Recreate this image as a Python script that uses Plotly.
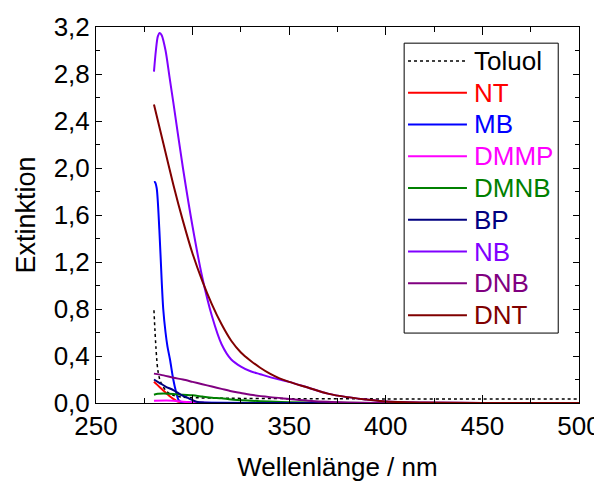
import plotly.graph_objects as go

# ---- data ----
toluol_x = [280, 280.5, 281, 281.5, 282, 283, 284, 286, 288, 290, 294, 300, 320, 350, 400, 450, 500]
toluol_y = [0.79, 0.62, 0.48, 0.36, 0.28, 0.2, 0.16, 0.11, 0.08, 0.065, 0.05, 0.045, 0.04, 0.037, 0.035, 0.035, 0.035]

nt_x = [280, 282, 284, 286, 288, 290, 292, 295, 300, 350, 500]
nt_y = [0.18, 0.15, 0.12, 0.09, 0.06, 0.035, 0.015, 0.005, 0.0, 0.0, 0.0]

mb_x = [280, 280.5, 281.4, 282.8, 284, 284.8, 286, 287, 288.3, 290, 291.5, 292.6, 294, 300, 350, 500]
mb_y = [1.88, 1.88, 1.83, 1.47, 1.04, 0.8, 0.6, 0.48, 0.37, 0.2, 0.09, 0.03, 0.01, 0.005, 0.0, 0.0]

dmmp_x = [280, 290, 295, 300, 310, 500]
dmmp_y = [0.02, 0.02, 0.01, 0.005, 0.0, 0.0]

dmnb_x = [280, 282, 285, 290, 295, 300, 305, 310, 315, 320, 330, 340, 350, 370, 400, 500]
dmnb_y = [0.07, 0.078, 0.08, 0.077, 0.07, 0.065, 0.055, 0.045, 0.04, 0.03, 0.02, 0.012, 0.006, 0.002, 0.0, 0.0]

bp_x = [280, 283, 286, 290, 294, 298, 302, 306, 320, 500]
bp_y = [0.2, 0.17, 0.14, 0.11, 0.07, 0.04, 0.01, 0.003, 0.0, 0.0]

nb_x = [280, 281, 282, 283, 284, 286, 288, 290, 295, 300, 305, 310, 315, 320, 325, 330,
        335, 340, 345, 350, 360, 370, 380, 390, 400, 420, 450, 500]
nb_y = [2.82, 3.0, 3.12, 3.15, 3.13, 3.0, 2.78, 2.56, 2.0, 1.5, 1.07, 0.74, 0.5, 0.37, 0.31, 0.27,
        0.245, 0.22, 0.2, 0.18, 0.13, 0.08, 0.05, 0.03, 0.012, 0.004, 0.001, 0.0]

dnb_x = [280, 285, 290, 295, 300, 305, 310, 315, 320, 325, 330, 340, 350, 360, 370, 380, 400, 500]
dnb_y = [0.25, 0.235, 0.215, 0.2, 0.18, 0.16, 0.14, 0.12, 0.1, 0.085, 0.07, 0.05, 0.035, 0.02, 0.01, 0.005, 0.0, 0.0]

dnt_x = [280, 285, 290, 295, 300, 305, 310, 315, 320, 325, 330,
         335, 340, 345, 350, 360, 370, 380, 390, 400, 420, 450, 500]
dnt_y = [2.54, 2.2, 1.86, 1.55, 1.27, 1.04, 0.84, 0.67, 0.53, 0.43, 0.36,
         0.3, 0.25, 0.21, 0.18, 0.13, 0.08, 0.05, 0.03, 0.012, 0.004, 0.001, 0.0]

x_ticks = [250, 300, 350, 400, 450, 500]
y_ticks = [0.0, 0.4, 0.8, 1.2, 1.6, 2.0, 2.4, 2.8, 3.2]
y_tick_labels = ["0,0", "0,4", "0,8", "1,2", "1,6", "2,0", "2,4", "2,8", "3,2"]

series = [
    ("Toluol", toluol_x, toluol_y, "#000000", "dot"),
    ("NT", nt_x, nt_y, "#FF0000", "solid"),
    ("MB", mb_x, mb_y, "#0000FF", "solid"),
    ("DMMP", dmmp_x, dmmp_y, "#FF00FF", "solid"),
    ("DMNB", dmnb_x, dmnb_y, "#008000", "solid"),
    ("BP", bp_x, bp_y, "#000080", "solid"),
    ("NB", nb_x, nb_y, "#8000FF", "solid"),
    ("DNB", dnb_x, dnb_y, "#800080", "solid"),
    ("DNT", dnt_x, dnt_y, "#800000", "solid"),
]

font_family = "Liberation Sans, Arial, sans-serif"

fig = go.Figure()
for name, xs, ys, color, dash in series:
    fig.add_trace(go.Scatter(
        x=xs, y=ys, mode="lines", name=name, showlegend=False,
        line=dict(color=color, width=2 if dash == "solid" else 1.5, dash=dash, shape="spline", smoothing=0.8),
    ))

# ---- legend box (drawn in paper coordinates, like the original's legend) ----
leg_x0, leg_x1, leg_top, leg_bot = 0.638, 0.957, 0.957, 0.186
first_row, row_step = 0.9097, 0.0845
sample_x0, sample_x1, text_x = 0.646, 0.768, 0.778
shapes = [dict(type="rect", xref="paper", yref="paper", x0=leg_x0, x1=leg_x1, y0=leg_bot, y1=leg_top,
               line=dict(color="black", width=1), fillcolor="white", layer="above")]
annotations = []
for i, (name, xs, ys, color, dash) in enumerate(series):
    yy = first_row - i * row_step
    shapes.append(dict(type="line", xref="paper", yref="paper", x0=sample_x0, x1=sample_x1, y0=yy, y1=yy,
                       line=dict(color=color, width=2 if dash == "solid" else 1.5, dash=dash), layer="above"))
    annotations.append(dict(xref="paper", yref="paper", x=text_x, y=yy, xanchor="left", yanchor="middle",
                            text=name, showarrow=False, font=dict(size=26, color=color, family=font_family)))

fig.update_layout(
    width=594, height=474,
    margin=dict(l=88, r=23, t=19, b=79),
    paper_bgcolor="white", plot_bgcolor="white",
    font=dict(family=font_family, size=26, color="black"),
    showlegend=False,
    shapes=shapes, annotations=annotations,
)
fig.update_xaxes(
    range=[250, 500], tickvals=x_ticks, ticktext=[str(v) for v in x_ticks],
    showgrid=False, zeroline=False, showline=True, linecolor="black", linewidth=1,
    mirror="allticks", ticks="inside", ticklen=8, tickwidth=1, tickcolor="black",
    minor=dict(dtick=25, tick0=250, ticks="inside", ticklen=5, tickcolor="black", showgrid=False),
    tickfont=dict(size=26), automargin=False,
    title=dict(text="Wellenlänge / nm", font=dict(size=26), standoff=18),
)
fig.update_yaxes(
    range=[0, 3.2], tickvals=y_ticks, ticktext=y_tick_labels,
    showgrid=False, zeroline=False, showline=True, linecolor="black", linewidth=1,
    mirror="allticks", ticks="inside", ticklen=6, tickwidth=1, tickcolor="black",
    minor=dict(dtick=0.2, tick0=0, ticks="inside", ticklen=4, tickcolor="black", showgrid=False),
    tickfont=dict(size=26), automargin=False,
    title=dict(text="Extinktion", font=dict(size=27), standoff=10),
)

fig.write_html("out.html")
